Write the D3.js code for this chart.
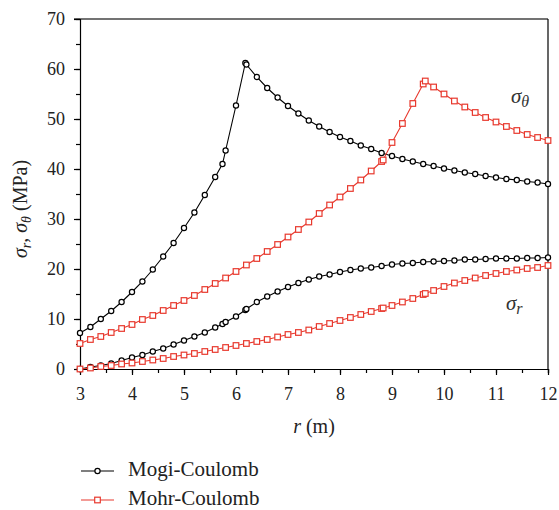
<!DOCTYPE html>
<html>
<head>
<meta charset="utf-8">
<script src="https://cdn.jsdelivr.net/npm/d3@7"></script>
<style>
  body { margin: 0; background: #fff; }
</style>
</head>
<body>
<div id="chart"></div>
<script>
// radius values (m) for each model
const rMogi = [3.0, 3.2, 3.4, 3.6, 3.8, 4.0, 4.2, 4.4, 4.6, 4.8, 5.0, 5.2, 5.4, 5.6, 5.74, 5.8, 6.0, 6.18, 6.2,
  6.4, 6.6, 6.8, 7.0, 7.2, 7.4, 7.6, 7.8, 8.0, 8.2, 8.4, 8.6, 8.8, 9.0, 9.2, 9.4, 9.6, 9.8, 10.0,
  10.2, 10.4, 10.6, 10.8, 11.0, 11.2, 11.4, 11.6, 11.8, 12.0];
const mogiTheta = [7.2, 8.4, 10.0, 11.6, 13.4, 15.4, 17.5, 19.9, 22.5, 25.2, 28.2, 31.3, 34.8, 38.4, 41.0, 43.7, 52.7, 61.2, 60.9,
  58.4, 56.2, 54.3, 52.6, 51.1, 49.7, 48.5, 47.4, 46.4, 45.6, 44.7, 44.0, 43.2, 42.6, 42.0, 41.5, 41.0, 40.6, 40.1,
  39.7, 39.3, 39.0, 38.6, 38.3, 38.0, 37.8, 37.5, 37.3, 37.0];
const mogiR = [0, 0.4, 0.7, 1.1, 1.7, 2.3, 2.8, 3.5, 4.1, 4.9, 5.7, 6.5, 7.3, 8.3, 9.0, 9.4, 10.5, 11.8, 12.0,
  13.4, 14.5, 15.5, 16.4, 17.2, 17.9, 18.5, 18.9, 19.4, 19.8, 20.1, 20.3, 20.6, 20.9, 21.1, 21.2, 21.4, 21.5, 21.6,
  21.7, 21.9, 21.9, 22.0, 22.1, 22.1, 22.1, 22.2, 22.2, 22.3];

const rMohr = [3.0, 3.2, 3.4, 3.6, 3.8, 4.0, 4.2, 4.4, 4.6, 4.8, 5.0, 5.2, 5.4, 5.6, 5.8, 6.0, 6.2, 6.4, 6.6, 6.8,
  7.0, 7.2, 7.4, 7.6, 7.8, 8.0, 8.2, 8.4, 8.6, 8.8, 8.83, 9.0, 9.2, 9.4, 9.6, 9.64, 9.8, 10.0,
  10.2, 10.4, 10.6, 10.8, 11.0, 11.2, 11.4, 11.6, 11.8, 12.0];
const mohrTheta = [5.1, 5.9, 6.5, 7.3, 8.1, 8.9, 9.9, 10.7, 11.7, 12.7, 13.7, 14.7, 15.9, 17.1, 18.2, 19.5, 20.8, 22.1, 23.5, 24.9,
  26.4, 27.9, 29.4, 31.1, 32.8, 34.4, 36.1, 37.8, 39.6, 41.5, 41.8, 45.3, 49.1, 53.1, 57.0, 57.6, 56.4, 55.0,
  53.6, 52.4, 51.3, 50.3, 49.4, 48.5, 47.7, 46.9, 46.3, 45.7];
const mohrR = [0, 0.2, 0.5, 0.7, 1.0, 1.2, 1.5, 1.8, 2.1, 2.5, 2.8, 3.1, 3.5, 3.9, 4.3, 4.7, 5.1, 5.5, 5.9, 6.4,
  6.9, 7.3, 7.8, 8.5, 9.1, 9.7, 10.3, 10.9, 11.5, 12.1, 12.2, 12.7, 13.4, 14.1, 14.9, 15.1, 15.7, 16.5,
  17.2, 17.7, 18.2, 18.7, 19.1, 19.5, 19.8, 20.1, 20.3, 20.7];

const xTicks = [3, 4, 5, 6, 7, 8, 9, 10, 11, 12];
const yTicks = [0, 10, 20, 30, 40, 50, 60, 70];

const W = 559, H = 510;
const margin = { top: 19, right: 11, bottom: 141, left: 80 };
const red = "#e8392e";
const FONT = "Liberation Serif";

const svg = d3.select("#chart").append("svg")
  .attr("width", W).attr("height", H);

const x = d3.scaleLinear().domain([3, 12]).range([margin.left, W - margin.right]);
const y = d3.scaleLinear().domain([0, 70]).range([H - margin.bottom, margin.top]);

// frame: top + right
svg.append("line")
  .attr("x1", 74).attr("x2", x(12)).attr("y1", y(70)).attr("y2", y(70))
  .attr("stroke", "#444").attr("stroke-width", 1.5);
svg.append("line")
  .attr("x1", x(12)).attr("x2", x(12)).attr("y1", y(70)).attr("y2", y(0))
  .attr("stroke", "#000").attr("stroke-width", 1.2);

// x axis
const xAxis = svg.append("g").attr("transform", `translate(0,${y(0)})`);
xAxis.call(d3.axisBottom(x).tickValues(d3.range(3, 12.01, 0.5)).tickSize(4).tickFormat(""));
xAxis.call(g => g.selectAll(".tick line").attr("stroke-width", 1.2));
xAxis.call(g => g.select(".domain").attr("stroke-width", 1.2));
const xMajor = svg.append("g").attr("transform", `translate(0,${y(0)})`)
  .attr("font-family", null).attr("font-size", null)
  .call(d3.axisBottom(x).tickValues(xTicks).tickSize(6).tickPadding(12).tickFormat(d3.format("d")));
xMajor.select(".domain").remove();
xMajor.selectAll(".tick line").attr("stroke-width", 1.2);
xMajor.selectAll("text").style("font-size", "18px").style("font-family", FONT).attr("fill", "#222");

// y axis
const yAxis = svg.append("g").attr("transform", `translate(${x(3)},0)`);
yAxis.call(d3.axisLeft(y).tickValues(d3.range(0, 70.1, 5)).tickSize(4).tickFormat(""));
yAxis.call(g => g.selectAll(".tick line").attr("stroke-width", 1.2));
yAxis.call(g => g.select(".domain").attr("stroke-width", 1.2));
const yMajor = svg.append("g").attr("transform", `translate(${x(3)},0)`)
  .call(d3.axisLeft(y).tickValues(yTicks).tickSize(6).tickPadding(9).tickFormat(d3.format("d")));
yMajor.select(".domain").remove();
yMajor.selectAll(".tick line").attr("stroke-width", 1.2);
yMajor.selectAll("text").style("font-size", "18px").style("font-family", FONT).attr("fill", "#222");

// series
const series = [
  { r: rMogi, v: mogiTheta, color: "#000", marker: "circle" },
  { r: rMogi, v: mogiR, color: "#000", marker: "circle" },
  { r: rMohr, v: mohrTheta, color: red, marker: "square" },
  { r: rMohr, v: mohrR, color: red, marker: "square" }
];

const line = d3.line().x(d => x(d[0])).y(d => y(d[1]));

function drawMarker(g, px, py, s) {
  if (s.marker === "circle") {
    g.append("circle").attr("cx", px).attr("cy", py).attr("r", 2.6)
      .attr("fill", "#fff").attr("stroke", s.color).attr("stroke-width", 1.2);
  } else {
    g.append("rect").attr("x", px - 2.8).attr("y", py - 2.8).attr("width", 5.6).attr("height", 5.6)
      .attr("fill", "#fff").attr("stroke", s.color).attr("stroke-width", 1.2);
  }
}

series.forEach(s => {
  const pts = s.r.map((r, i) => [r, s.v[i]]);
  svg.append("path").datum(pts)
    .attr("d", line).attr("fill", "none")
    .attr("stroke", s.color).attr("stroke-width", 1.1);
  const g = svg.append("g");
  pts.forEach(p => drawMarker(g, x(p[0]), y(p[1]), s));
});

// curve labels
function sigmaLabel(px, py, sub) {
  const t = svg.append("text").attr("x", px).attr("y", py)
    .style("font-family", FONT).style("font-size", "21px").style("font-style", "italic").attr("fill", "#333");
  t.append("tspan").text("σ");
  t.append("tspan").style("font-size", "16px").attr("dy", 4).text(sub);
}
sigmaLabel(511, 103, "θ");
sigmaLabel(506, 310, "r");

// axis titles
const xt = svg.append("text").attr("x", 314).attr("y", 433).attr("text-anchor", "middle")
  .style("font-family", FONT).style("font-size", "20px").attr("fill", "#222");
xt.append("tspan").style("font-style", "italic").text("r");
xt.append("tspan").text(" (m)");

const yt = svg.append("text")
  .attr("transform", `translate(27,${(y(0) + y(70)) / 2 + 15}) rotate(-90)`)
  .attr("text-anchor", "middle")
  .style("font-family", FONT).style("font-size", "20px").attr("fill", "#222");
yt.append("tspan").style("font-style", "italic").text("σ");
yt.append("tspan").style("font-style", "italic").style("font-size", "14px").attr("dy", 4).text("r");
yt.append("tspan").attr("dy", -4).text(", ");
yt.append("tspan").style("font-style", "italic").text("σ");
yt.append("tspan").style("font-style", "italic").style("font-size", "14px").attr("dy", 4).text("θ");
yt.append("tspan").attr("dy", -4).text(" (MPa)");

// legend
const legendItems = [
  { label: "Mogi-Coulomb", s: series[0] },
  { label: "Mohr-Coulomb", s: series[2] }
];
legendItems.forEach((item, i) => {
  const ly = 471 + i * 29;
  svg.append("line").attr("x1", 81).attr("x2", 114).attr("y1", ly).attr("y2", ly)
    .attr("stroke", item.s.color).attr("stroke-width", 1.1);
  drawMarker(svg, 97.5, ly, item.s);
  svg.append("text").attr("x", 128).attr("y", ly + 5)
    .style("font-family", FONT).style("font-size", "21px").attr("fill", "#222").text(item.label);
});
</script>
</body>
</html>
